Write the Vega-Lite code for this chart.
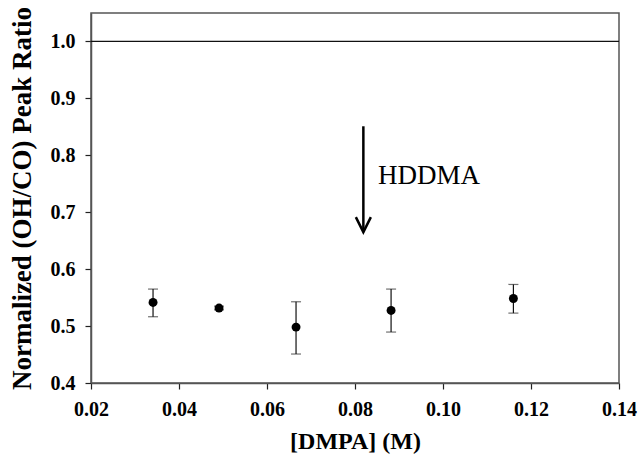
{
  "$schema": "https://vega.github.io/schema/vega-lite/v6.json",
  "autosize": "none",
  "width": 528,
  "height": 370,
  "padding": {"left": 91, "top": 13, "right": 20, "bottom": 82},
  "background": "white",
  "datasets": {
    "pts": [
      {"dmpa": 0.0341, "ratio": 0.5415, "lo": 0.5164, "hi": 0.565},
      {"dmpa": 0.0491, "ratio": 0.5316, "lo": 0.5285, "hi": 0.5350},
      {"dmpa": 0.0666, "ratio": 0.4982, "lo": 0.4509, "hi": 0.5427},
      {"dmpa": 0.0882, "ratio": 0.5275, "lo": 0.4895, "hi": 0.565},
      {"dmpa": 0.1160, "ratio": 0.5485, "lo": 0.5228, "hi": 0.5731}
    ],
    "arrow": [{"x": 0.0819, "top": 0.851, "tip": 0.665}],
    "label": [{"x": 0.0852, "y": 0.7504, "text": "HDDMA"}],
    "ref": [{"y": 1.0}]
  },
  "encoding": {
    "x": {
      "type": "quantitative",
      "scale": {"domain": [0.02, 0.14], "nice": false, "zero": false}
    }
  },
  "layer": [
    {
      "data": {"name": "ref"},
      "mark": {"type": "rule", "color": "#111", "strokeWidth": 1.3},
      "encoding": {
        "y": {"field": "y", "type": "quantitative",
              "title": "Normalized (OH/CO) Peak Ratio",
              "scale": {"domain": [0.4, 1.05], "nice": false, "zero": false},
              "axis": {
                "values": [0.4, 0.5, 0.6, 0.7, 0.8, 0.9, 1.0],
                "format": ".1f",
                "titlePadding": 14
              }}
      }
    },
    {
      "data": {"name": "pts"},
      "mark": {"type": "errorbar", "ticks": {"size": 10, "thickness": 1.2, "color": "#333"}, "rule": {"strokeWidth": 1.2, "color": "#111"}},
      "encoding": {
        "x": {"field": "dmpa", "type": "quantitative", "title": "[DMPA] (M)",
              "axis": {"values": [0.02, 0.04, 0.06, 0.08, 0.10, 0.12, 0.14], "format": ".2f", "titlePadding": 10}},
        "y": {"field": "lo", "type": "quantitative", "title": "Normalized (OH/CO) Peak Ratio"},
        "y2": {"field": "hi"}
      }
    },
    {
      "data": {"name": "pts"},
      "mark": {"type": "point", "filled": true, "shape": "circle", "size": 80, "color": "black", "opacity": 1},
      "encoding": {
        "x": {"field": "dmpa", "type": "quantitative", "title": "[DMPA] (M)"},
        "y": {"field": "ratio", "type": "quantitative", "title": "Normalized (OH/CO) Peak Ratio"}
      }
    },
    {
      "data": {"name": "arrow"},
      "mark": {"type": "rule", "color": "black", "strokeWidth": 2.5},
      "encoding": {
        "x": {"field": "x", "type": "quantitative", "title": "[DMPA] (M)"},
        "y": {"field": "top", "type": "quantitative", "title": "Normalized (OH/CO) Peak Ratio"},
        "y2": {"field": "tip"}
      }
    },
    {
      "data": {"name": "arrow"},
      "mark": {"type": "point", "shape": "M -0.5 -1 L 0 0 L 0.5 -1", "filled": false, "size": 900, "color": "black", "strokeWidth": 2.5, "opacity": 1, "strokeJoin": "miter"},
      "encoding": {
        "x": {"field": "x", "type": "quantitative", "title": "[DMPA] (M)"},
        "y": {"field": "tip", "type": "quantitative", "title": "Normalized (OH/CO) Peak Ratio"}
      }
    },
    {
      "data": {"name": "label"},
      "mark": {"type": "text", "align": "left", "baseline": "alphabetic", "font": "Liberation Serif", "fontSize": 27, "color": "black"},
      "encoding": {
        "x": {"field": "x", "type": "quantitative", "title": "[DMPA] (M)"},
        "y": {"field": "y", "type": "quantitative", "title": "Normalized (OH/CO) Peak Ratio"},
        "text": {"field": "text"}
      }
    }
  ],
  "config": {
    "view": {"stroke": "#555", "strokeWidth": 1.5},
    "axis": {
      "grid": false,
      "domainColor": "#555",
      "domainWidth": 1.5,
      "tickColor": "#222",
      "tickSize": 6,
      "tickWidth": 1.2,
      "labelFont": "Liberation Serif",
      "labelFontWeight": "bold",
      "labelFontSize": 20,
      "labelColor": "black",
      "labelPadding": 10,
      "labelFlush": false,
      "labelOverlap": false,
      "titleFont": "Liberation Serif",
      "titleFontWeight": "bold",
      "titleColor": "black"
    },
    "axisX": {"titleFontSize": 24},
    "axisY": {"titleFontSize": 27}
  }
}
